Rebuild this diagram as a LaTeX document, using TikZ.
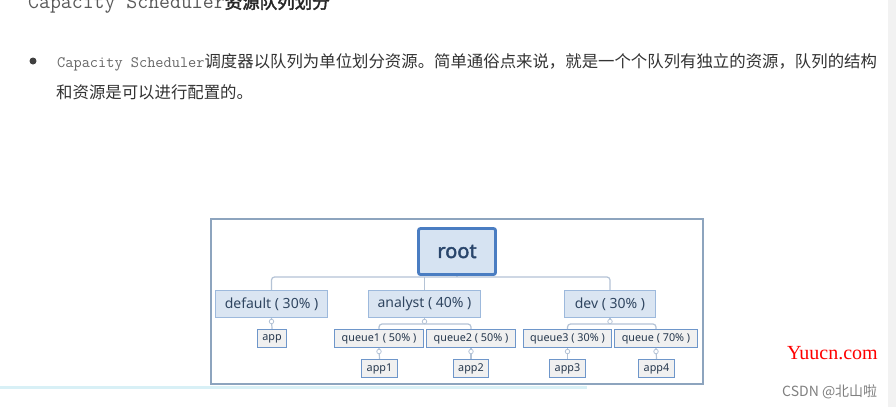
\documentclass[tikz,border=0pt]{standalone}
\usepackage{fontspec}
\newfontfamily\cjk{Noto Sans CJK SC}[AutoFakeBold=2.2]
\newfontfamily\diagfont{Noto Sans}[AutoFakeBold=2.2]
\newfontfamily\wmfont{Liberation Serif}
\usetikzlibrary{calc,positioning}
\definecolor{frameblue}{HTML}{8DA4BE}
\definecolor{rootline}{HTML}{4A7DC2}
\definecolor{rootfill}{HTML}{D6E3F2}
\definecolor{lvlline}{HTML}{9DB9DC}
\definecolor{lvlfill}{HTML}{DAE5F2}
\definecolor{leafline}{HTML}{6E96CA}
\definecolor{leaffill}{HTML}{F0F0F0}
\definecolor{linkgray}{HTML}{B4C3D6}
\definecolor{txtblue}{HTML}{2F4560}
\definecolor{stripe}{HTML}{D8F0F6}
\tikzset{link/.style={draw=linkgray, line width=1.2pt, rounded corners=3pt},
  knob/.style={circle, draw=linkgray, fill=white, line width=0.8pt, inner sep=0pt, minimum size=4.5pt},
  rootblk/.style={draw=rootline, line width=2.8pt, fill=rootfill, rounded corners=2pt, minimum width=77, minimum height=46, font=\diagfont\fontsize{20}{24}\selectfont\bfseries, text=rootline!55!black},
  qblk/.style={draw=lvlline, line width=1.4pt, fill=lvlfill, minimum height=26.6, inner sep=0pt, font=\diagfont\fontsize{14}{17}\selectfont, text=txtblue},
  leaf/.style={draw=leafline, line width=1.4pt, fill=leaffill, minimum height=17.6, inner sep=0pt, font=\diagfont\fontsize{10.8}{13}\selectfont, text=txtblue!80!black},
  txt/.style={anchor=base west, inner sep=0pt}}

\begin{document}
\begin{tikzpicture}[x=1pt, y=-1pt]
  \useasboundingbox (0,0) rectangle (896,407);
  \fill[white] (0,0) rectangle (896,407);
  \fill[black!5] (888,0) rectangle (896,407);
  % heading and bullet text
  \node[txt] (title) at (28,8.5) {{\ttfamily\fontsize{21.2}{24}\selectfont\color{black!65}Capacity Scheduler}{\cjk\bfseries\fontsize{17.5}{20}\selectfont\color{black!85}资源队列划分}};
  \node[circle, fill=black!75, inner sep=0pt, minimum size=7] (dot) at (33,61) {};
  \node[txt] (line1) at (57,67) {{\ttfamily\fontsize{15.9}{19}\selectfont\color{black!60}Capacity Scheduler}{\cjk\fontsize{16.4}{20}\selectfont\color{black!80}调度器以队列为单位划分资源。简单通俗点来说，就是一个个队列有独立的资源，队列的结构}};
  \node[txt] (line2) at (56,98) {\cjk\fontsize{16.4}{20}\selectfont\color{black!80}和资源是可以进行配置的。};
  \fill[stripe] (0,386) rectangle (587,389);
  % frame
  \draw[frameblue, line width=1.2pt, fill=white] (211,219) rectangle (703,384);
  % queues
  \node[rootblk] (root) at (457,251.5) {root};
  \node[qblk, minimum width=111.6] (default) at (271.5,304) {default ( 30\% )};
  \node[qblk, minimum width=111.6] (analyst) at (424.5,304) {analyst ( 40\% )};
  \node[qblk, minimum width=90.6] (dev) at (610,304) {dev ( 30\% )};
  \node[leaf, minimum width=28.6] (app) at (272,338.5) {app};
  \node[leaf, minimum width=88.6] (queue1) at (379,338.5) {queue1 ( 50\% )};
  \node[leaf, minimum width=88.6] (queue2) at (471,338.5) {queue2 ( 50\% )};
  \node[leaf, minimum width=87.6] (queue3) at (567.5,338.5) {queue3 ( 30\% )};
  \node[leaf, minimum width=82.6] (queue4) at (656,338.5) {queue ( 70\% )};
  \node[leaf, minimum width=35.6] (app1) at (379.5,368.5) {app1};
  \node[leaf, minimum width=34.6] (app2) at (471,368.5) {app2};
  \node[leaf, minimum width=35.6] (app3) at (567.5,368.5) {app3};
  \node[leaf, minimum width=35.6] (app4) at (656.5,368.5) {app4};
  % root links
  \coordinate (rj) at (457,277);
  \draw[link] (default.north) |- (rj) -| (dev.north);
  \draw[link] (analyst.north) -- (analyst.north |- rj);
  \draw[link] (root.south) -- (rj);
  % second level
  \draw[link] (default.south) -- (app.north);
  \draw[link] (queue1.north) |- ($(analyst.south)+(0,6)$) -| (queue2.north);
  \draw[link] (analyst.south) -- ++(0,6);
  \draw[link] (queue3.north) |- ($(dev.south)+(0,6)$) -| (queue4.north);
  \draw[link] (dev.south) -- ++(0,6);
  % leaves
  \draw[link] (queue1.south) -- (app1.north);
  \draw[link] (queue2.south) -- (app2.north);
  \draw[link] (queue3.south) -- (app3.north);
  \draw[link] (queue4.south) -- (app4.north);
  \foreach \p in {default,analyst,dev,queue1,queue2,queue3,queue4}
    \node[knob] (knob-\p) at ($(\p.south)+(0,3.5)$) {};
  % watermarks
  \node[txt, font=\wmfont\fontsize{20}{24}\selectfont, text=red] (yuucn) at (787,359) {Yuucn.com};
  \node[txt, font=\cjk\fontsize{14}{17}\selectfont, text=black!50] (csdn) at (782,396) {CSDN @北山啦};
\end{tikzpicture}
\end{document}
